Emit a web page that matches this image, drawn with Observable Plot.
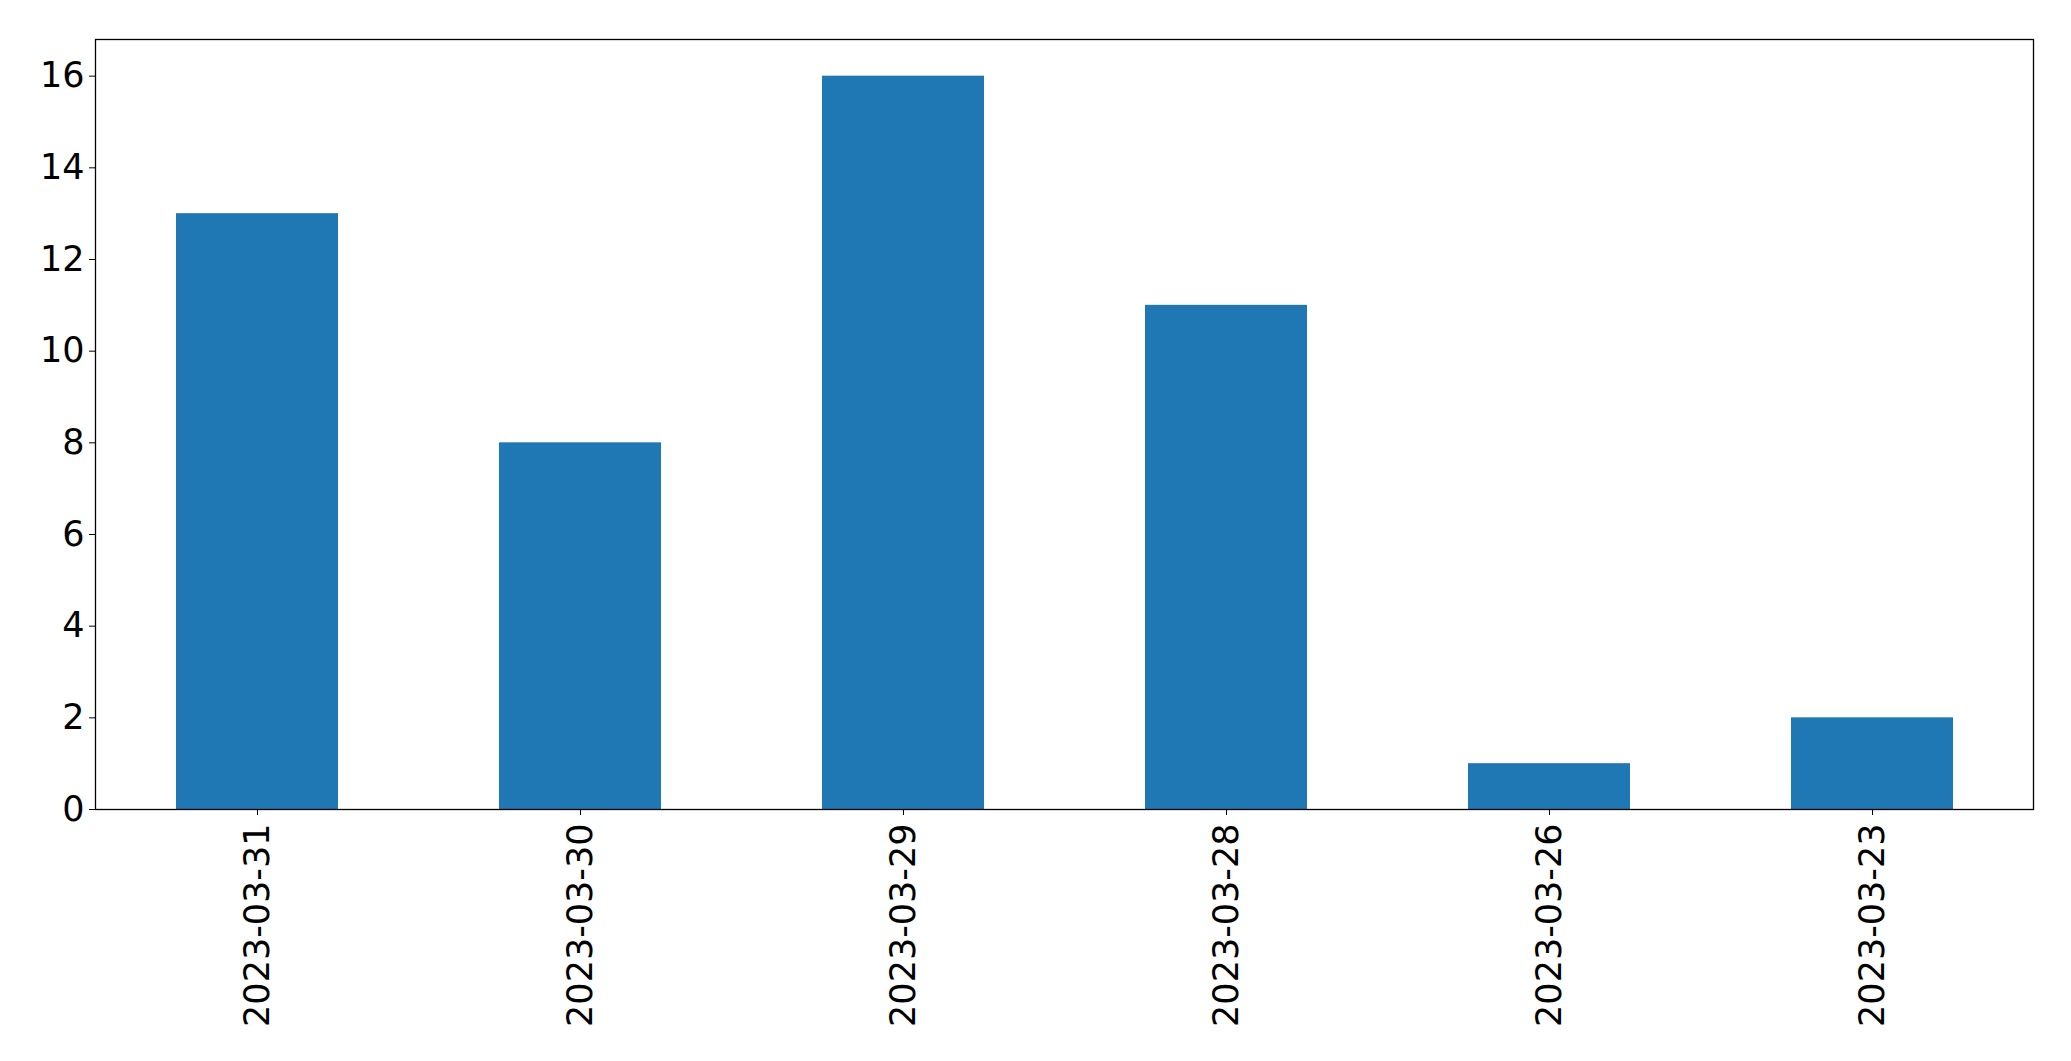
<!DOCTYPE html>
<html>
<head>
<meta charset="utf-8">
<script src="https://cdn.jsdelivr.net/npm/d3@7"></script>
<script src="https://cdn.jsdelivr.net/npm/@observablehq/plot@0.6"></script>
<style>
  html, body { margin: 0; padding: 0; background: #fff; }
</style>
</head>
<body>
<div id="chart"></div>
<script>
const dates = ["2023-03-31", "2023-03-30", "2023-03-29", "2023-03-28", "2023-03-26", "2023-03-23"];
const counts = [13, 8, 16, 11, 1, 2];
const yTicks = [0, 2, 4, 6, 8, 10, 12, 14, 16];

const data = dates.map((d, i) => ({date: d, count: counts[i]}));

const chart = Plot.plot({
  width: 2071,
  height: 1061,
  marginLeft: 95,
  marginRight: 38,
  marginTop: 39,
  marginBottom: 252,
  style: {fontFamily: "DejaVu Sans", fontSize: "35px", color: "#000", background: "#fff"},
  x: {domain: dates, paddingInner: 0.5, paddingOuter: 0.25, label: null},
  y: {domain: [0, 16.8], label: null},
  marks: [
    Plot.barY(data, {x: "date", y: "count", fill: "#1f77b4"}),
    Plot.frame({stroke: "#000", strokeWidth: 1.3}),
    Plot.axisY({ticks: yTicks, tickSize: 6, tickPadding: 5, fontSize: 35, label: null, tickFormat: d => String(d)}),
    Plot.axisX({tickRotate: -90, tickSize: 6, tickPadding: 8, fontSize: 35, label: null})
  ]
});
document.getElementById("chart").appendChild(chart);
</script>
</body>
</html>
